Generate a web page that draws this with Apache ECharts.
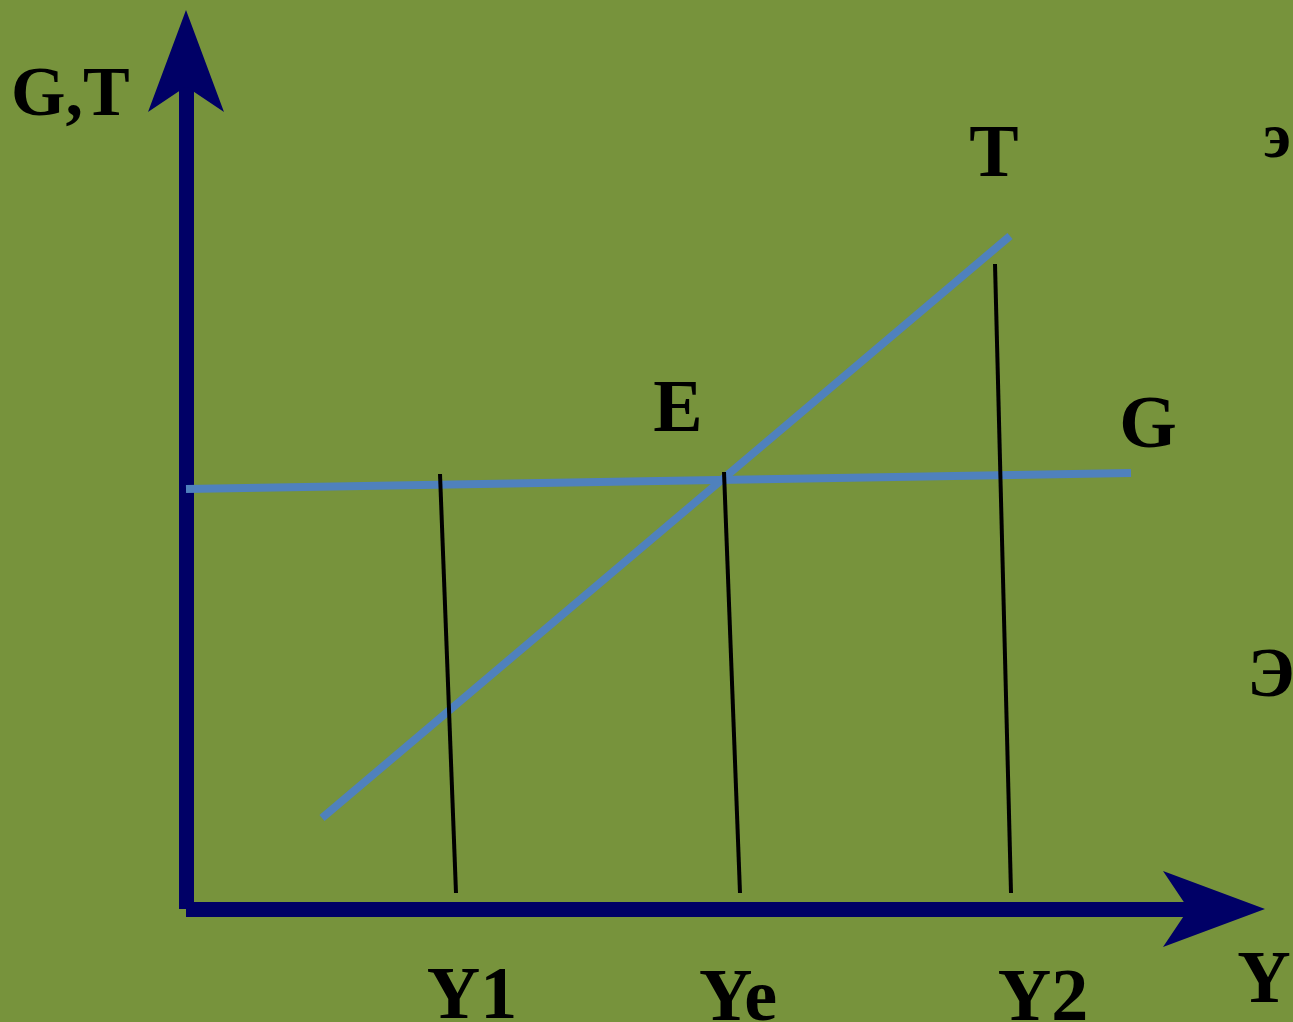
<!DOCTYPE html>
<html>
<head>
<meta charset="utf-8">
<script src="https://cdn.jsdelivr.net/npm/echarts@6/dist/echarts.min.js"></script>
<style>
html,body{margin:0;padding:0;background:#77933C;}
#chart{width:1293px;height:1022px;}
</style>
</head>
<body>
<div id="chart"></div>
<script>
// Data (units: horizontal/vertical distance from the origin)
var gLine = [[0, 420], [945, 436]];          // G (government spending)
var tLine = [[136, 91], [824, 673]];         // T (taxes)
var y1Line = [[254, 435], [270, 16]];
var yeLine = [[538, 437], [554, 16]];
var y2Line = [[809, 645], [825, 16]];
var xTickLabels = ['Y1', 'Ye', 'Y2'];
var curveLabels = ['T', 'E', 'G'];
var axisTitles = ['G,T', 'Y'];
var sideMarks = ['э', 'Э'];

var chart = echarts.init(document.getElementById('chart'), null, {renderer: 'canvas'});
var navy = '#000066';
var blue = '#4F81BD';
var serif = '"Liberation Serif","Times New Roman",serif';

function lineSeries(data, color, width, z) {
  return {type: 'line', data: data, symbol: 'none', z: z,
    lineStyle: {color: color, width: width, cap: 'butt'}, silent: true};
}
function txt(t, x, y, size, align) {
  return {type: 'text', x: x, y: y, z: 100,
    style: {text: t, fill: '#000', font: 'bold ' + size + 'px ' + serif,
      textAlign: align || 'center', textVerticalAlign: 'bottom'}};
}

chart.setOption({
  backgroundColor: '#77933C',
  animation: false,
  grid: {left: 186, top: 82, right: 101, bottom: 113},
  xAxis: {type: 'value', min: 0, max: 1006,
    axisLine: {show: true, lineStyle: {color: navy, width: 15, cap: 'butt'},
      symbol: ['none', 'arrow'], symbolSize: [57, 102], symbolOffset: [0, 73]},
    axisTick: {show: false}, axisLabel: {show: false}, splitLine: {show: false}},
  yAxis: {type: 'value', min: 0, max: 827,
    axisLine: {show: true, lineStyle: {color: navy, width: 15, cap: 'butt'},
      symbol: ['none', 'arrow'], symbolSize: [57, 102], symbolOffset: [0, 72]},
    axisTick: {show: false}, axisLabel: {show: false}, splitLine: {show: false}},
  series: [
    lineSeries(gLine, blue, 8, 2),
    lineSeries(tLine, blue, 8, 2),
    lineSeries(y1Line, '#000', 4, 3),
    lineSeries(yeLine, '#000', 4, 3),
    lineSeries(y2Line, '#000', 4, 3)
  ],
  graphic: [
    txt(axisTitles[0], 11, 132, 70, 'left'),
    txt(axisTitles[1], 1264, 1020, 74),
    txt(curveLabels[0], 994, 194, 74),
    txt(curveLabels[1], 678, 449, 74),
    txt(curveLabels[2], 1148, 465, 74),
    txt(xTickLabels[0], 472, 1036, 74),
    txt(xTickLabels[1], 738, 1038, 74),
    txt(xTickLabels[2], 1043, 1038, 74),
    txt(sideMarks[0], 1277, 172, 64),
    txt(sideMarks[1], 1271, 713, 70)
  ]
});
</script>
</body>
</html>
